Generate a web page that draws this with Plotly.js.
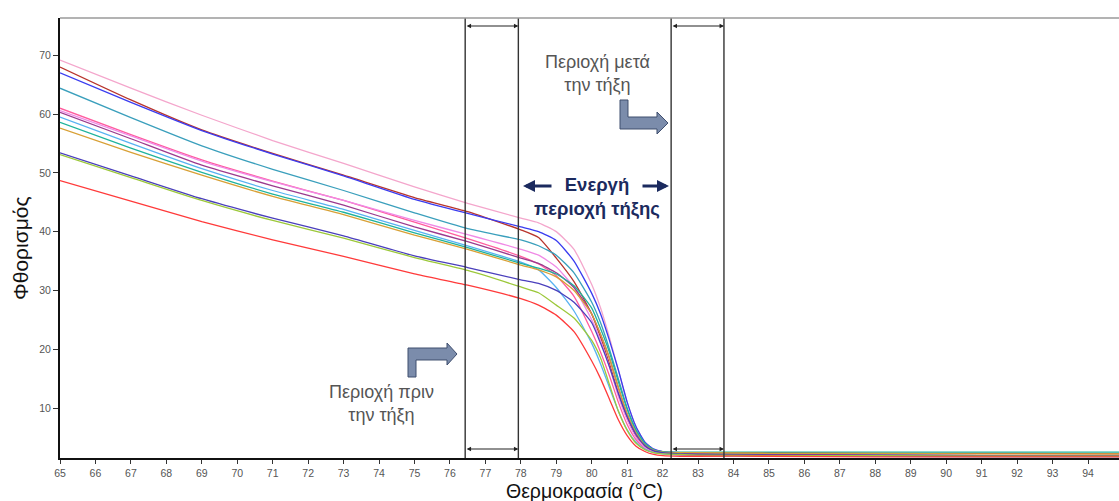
<!DOCTYPE html>
<html>
<head>
<meta charset="utf-8">
<script src="https://cdn.plot.ly/plotly-3.0.1.min.js"></script>
<style>
html,body{margin:0;padding:0;overflow:hidden;background:#fff;}
#chart{width:1127px;height:501px;}
</style>
</head>
<body>
<div id="chart"></div>
<script>
// Temperature grid (°C)
const temps = [65, 67, 69, 71, 73, 75, 76.5, 78, 78.5, 79, 79.5, 80, 80.25, 80.5, 80.75, 81, 81.25, 81.5, 81.75, 82, 82.5, 83, 85, 88, 91, 95.2];

// Fluorescence readings per sample
const sLightPink  = [69.2, 64.4, 59.8, 55.5, 51.6, 47.6, 44.8, 42.3, 41.5, 40.0, 37.0, 31.0, 27.0, 22.0, 16.5, 11.0, 6.8, 4.2, 3.0, 2.6, 2.4, 2.3, 2.2, 2.1, 2.0, 1.9];
const sDarkRed    = [68.0, 62.4, 57.3, 53.3, 49.6, 45.8, 43.4, 40.3, 39.0, 35.5, 31.5, 26.0, 22.0, 17.5, 12.5, 8.3, 5.2, 3.4, 2.6, 2.4, 2.4, 2.4, 2.4, 2.3, 2.3, 2.2];
const sBlue       = [67.0, 62.0, 57.2, 53.2, 49.5, 45.5, 43.1, 40.8, 40.0, 38.5, 35.0, 29.5, 26.0, 21.5, 16.5, 11.0, 6.8, 4.2, 3.0, 2.6, 2.4, 2.3, 2.2, 2.0, 1.9, 1.9];
const sTeal       = [64.4, 59.4, 54.6, 50.6, 47.0, 43.2, 40.5, 38.6, 37.6, 36.0, 33.0, 28.0, 24.5, 20.0, 15.0, 10.0, 6.3, 4.0, 2.9, 2.5, 2.3, 2.2, 2.1, 2.0, 1.9, 1.8];
const sHotPink    = [61.0, 56.5, 52.2, 48.6, 45.3, 41.6, 38.8, 35.8, 34.5, 32.5, 29.0, 23.0, 19.5, 15.5, 11.0, 7.2, 4.6, 3.1, 2.5, 2.3, 2.2, 2.1, 2.0, 1.9, 1.8, 1.8];
const sViolet     = [60.6, 56.3, 52.0, 48.5, 45.3, 41.9, 39.5, 37.0, 36.0, 34.0, 30.5, 25.0, 21.5, 17.0, 12.0, 8.0, 5.0, 3.3, 2.6, 2.3, 2.2, 2.1, 2.0, 1.9, 1.9, 1.8];
const sPurple     = [60.3, 55.8, 51.3, 47.8, 44.5, 40.8, 38.3, 35.5, 34.6, 33.0, 30.5, 26.0, 22.5, 18.5, 13.5, 9.0, 5.8, 3.7, 2.8, 2.5, 2.3, 2.2, 2.1, 2.0, 1.9, 1.9];
const sLightBlue  = [59.5, 55.0, 50.7, 47.0, 43.8, 40.2, 37.6, 34.8, 33.5, 30.5, 26.5, 21.0, 17.5, 13.5, 9.5, 6.3, 4.2, 3.0, 2.4, 2.2, 2.0, 1.9, 1.8, 1.8, 1.7, 1.7];
const sCyanGreen  = [58.6, 54.2, 50.1, 46.4, 43.3, 39.8, 37.3, 34.6, 33.8, 32.8, 30.8, 27.0, 23.5, 19.5, 14.5, 9.8, 6.2, 3.9, 2.9, 2.6, 2.5, 2.5, 2.5, 2.5, 2.5, 2.5];
const sOrange     = [57.6, 53.5, 49.6, 46.0, 42.9, 39.4, 37.0, 34.3, 33.5, 32.3, 30.0, 26.0, 22.5, 18.5, 13.5, 9.0, 5.8, 3.7, 2.8, 2.5, 2.4, 2.4, 2.3, 2.3, 2.2, 2.2];
const sSlateBlue  = [53.4, 49.5, 45.6, 42.3, 39.3, 35.9, 33.9, 31.8, 31.2, 30.0, 28.0, 24.5, 21.0, 17.0, 12.5, 8.5, 5.5, 3.6, 2.7, 2.4, 2.2, 2.1, 2.0, 1.9, 1.8, 1.8];
const sYellowGreen= [53.1, 49.2, 45.3, 41.9, 38.9, 35.6, 33.4, 30.6, 29.6, 27.5, 25.3, 21.5, 18.5, 14.0, 9.5, 6.2, 4.0, 2.9, 2.4, 2.2, 2.1, 2.0, 1.9, 1.9, 1.8, 1.8];
const sRed        = [48.7, 45.2, 41.7, 38.6, 35.8, 32.8, 30.9, 28.6, 27.5, 25.8, 23.0, 18.0, 15.0, 11.5, 8.0, 5.3, 3.5, 2.6, 2.1, 1.9, 1.8, 1.8, 1.8, 1.7, 1.7, 1.7];

// Region boundaries (°C): pre-melt start/end, post-melt start/end
const regionBounds = [76.43, 77.93, 82.24, 83.73];

// Text labels
const yTitle = "Φθορισμός";
const xTitle = "Θερμοκρασία (°C)";
const preLabel = "Περιοχή πριν<br>την τήξη";
const postLabel = "Περιοχή μετά<br>την τήξη";
const activeLabel = "Ενεργή<br>περιοχή τήξης";

const seriesList = [
  [sLightPink, "#f4a6cc"], [sDarkRed, "#b8342c"], [sBlue, "#3a3cf0"], [sTeal, "#3a9fbc"],
  [sHotPink, "#ff5c9e"], [sViolet, "#f08ae6"], [sPurple, "#9a3a8e"], [sLightBlue, "#58b2f2"],
  [sCyanGreen, "#1fb39c"], [sOrange, "#d8a035"], [sSlateBlue, "#4a3fbc"], [sYellowGreen, "#9cc83a"],
  [sRed, "#ff3a3a"]
];

const traces = seriesList.map(([ys, c]) => ({
  x: temps, y: ys, type: "scatter", mode: "lines",
  line: {color: c, width: 1.3, shape: "spline", smoothing: 0.5},
  hoverinfo: "skip", showlegend: false
}));

// layout geometry helpers (pixel -> paper)
const ML = 60, MT = 18, W = 1127, H = 501, MB = 43;
const PW = W - ML, PH = H - MT - MB;
const PX = p => (p - ML) / PW;
const PY = p => 1 - (p - MT) / PH;
const path = pts => "M " + pts.map(([a, b]) => PX(a).toFixed(5) + "," + PY(b).toFixed(5)).join(" L ") + " Z";
const FONT = "Liberation Sans, Arial, sans-serif";

const shapes = regionBounds.map(b => ({
  type: "line", xref: "x", yref: "paper", x0: b, x1: b, y0: 0, y1: 1,
  line: {color: "#333", width: 1.4}
}));
shapes.push({type: "line", xref: "paper", yref: "paper", x0: 0, x1: 1, y0: 1, y1: 1, line: {color: "#9a9a9a", width: 1.5}});
// L-shaped arrows
shapes.push({type: "path", xref: "paper", yref: "paper",
  path: path([[620,100],[628,100],[628,117],[657,117],[657,112],[668,123],[657,134],[657,129],[620,129]]),
  fillcolor: "#7b8cab", line: {color: "#3f4e6e", width: 1}});
shapes.push({type: "path", xref: "paper", yref: "paper",
  path: path([[408,377],[408,348],[447,348],[447,343],[457,354],[447,365],[447,360],[416,360],[416,377]]),
  fillcolor: "#7b8cab", line: {color: "#3f4e6e", width: 1}});

const annotations = [];
// double arrows at top and bottom of the pre and post regions
[[regionBounds[0], regionBounds[1]], [regionBounds[2], regionBounds[3]]].forEach(([a, b]) => {
  [26, 449].forEach(py => {
    annotations.push({x: b, y: PY(py), ax: a, ay: PY(py), xref: "x", yref: "paper", axref: "x", ayref: "paper",
      text: "", showarrow: true, arrowside: "end+start", arrowhead: 2, arrowsize: 0.8, arrowwidth: 1.1,
      arrowcolor: "#222", standoff: 0, startstandoff: 0});
  });
});
// navy arrows for active region
annotations.push({x: PX(523), y: PY(186), xref: "paper", yref: "paper", ax: 30, ay: 0, axref: "pixel", ayref: "pixel",
  text: "", showarrow: true, arrowhead: 2, arrowsize: 0.75, arrowwidth: 3.2, arrowcolor: "#1b2a5e", standoff: 0});
annotations.push({x: PX(669), y: PY(186), xref: "paper", yref: "paper", ax: -28, ay: 0, axref: "pixel", ayref: "pixel",
  text: "", showarrow: true, arrowhead: 2, arrowsize: 0.75, arrowwidth: 3.2, arrowcolor: "#1b2a5e", standoff: 0});
const txt = (px, py, text, size, color, extra) => Object.assign({
  x: PX(px), y: PY(py), xref: "paper", yref: "paper", xanchor: "center", yanchor: "middle",
  text: text, showarrow: false, align: "center", font: {family: FONT, size: size, color: color}
}, extra || {});
annotations.push(txt(597, 197, "<b>" + activeLabel + "</b>", 18.5, "#1b2a5e"));
annotations.push(txt(597, 74, postLabel, 18, "#555"));
annotations.push(txt(381, 403, preLabel, 18, "#555"));
// axis titles
annotations.push(txt(584, 491, xTitle, 19.5, "#111"));
annotations.push(txt(20, 248, yTitle, 21, "#111", {textangle: -90}));

const layout = {
  width: W, height: H,
  margin: {l: ML, r: 0, t: MT, b: MB, pad: 0},
  paper_bgcolor: "#fff", plot_bgcolor: "#fff",
  showlegend: false,
  xaxis: {range: [65, 95.1], dtick: 1, tick0: 65, showgrid: false, zeroline: false,
    showline: true, linecolor: "#111", linewidth: 2, ticks: "outside", ticklen: 4, tickcolor: "#333",
    tickfont: {family: FONT, size: 10.5, color: "#555"}},
  yaxis: {range: [1.5, 76.34], showgrid: false, zeroline: false,
    showline: true, linecolor: "#111", linewidth: 2, ticks: "outside", ticklen: 5, tickcolor: "#333",
    tickvals: [10, 20, 30, 40, 50, 60, 70],
    tickfont: {family: FONT, size: 10.5, color: "#555"}},
  shapes: shapes,
  annotations: annotations
};

Plotly.newPlot("chart", traces, layout, {displayModeBar: false, staticPlot: true});
</script>
</body>
</html>
